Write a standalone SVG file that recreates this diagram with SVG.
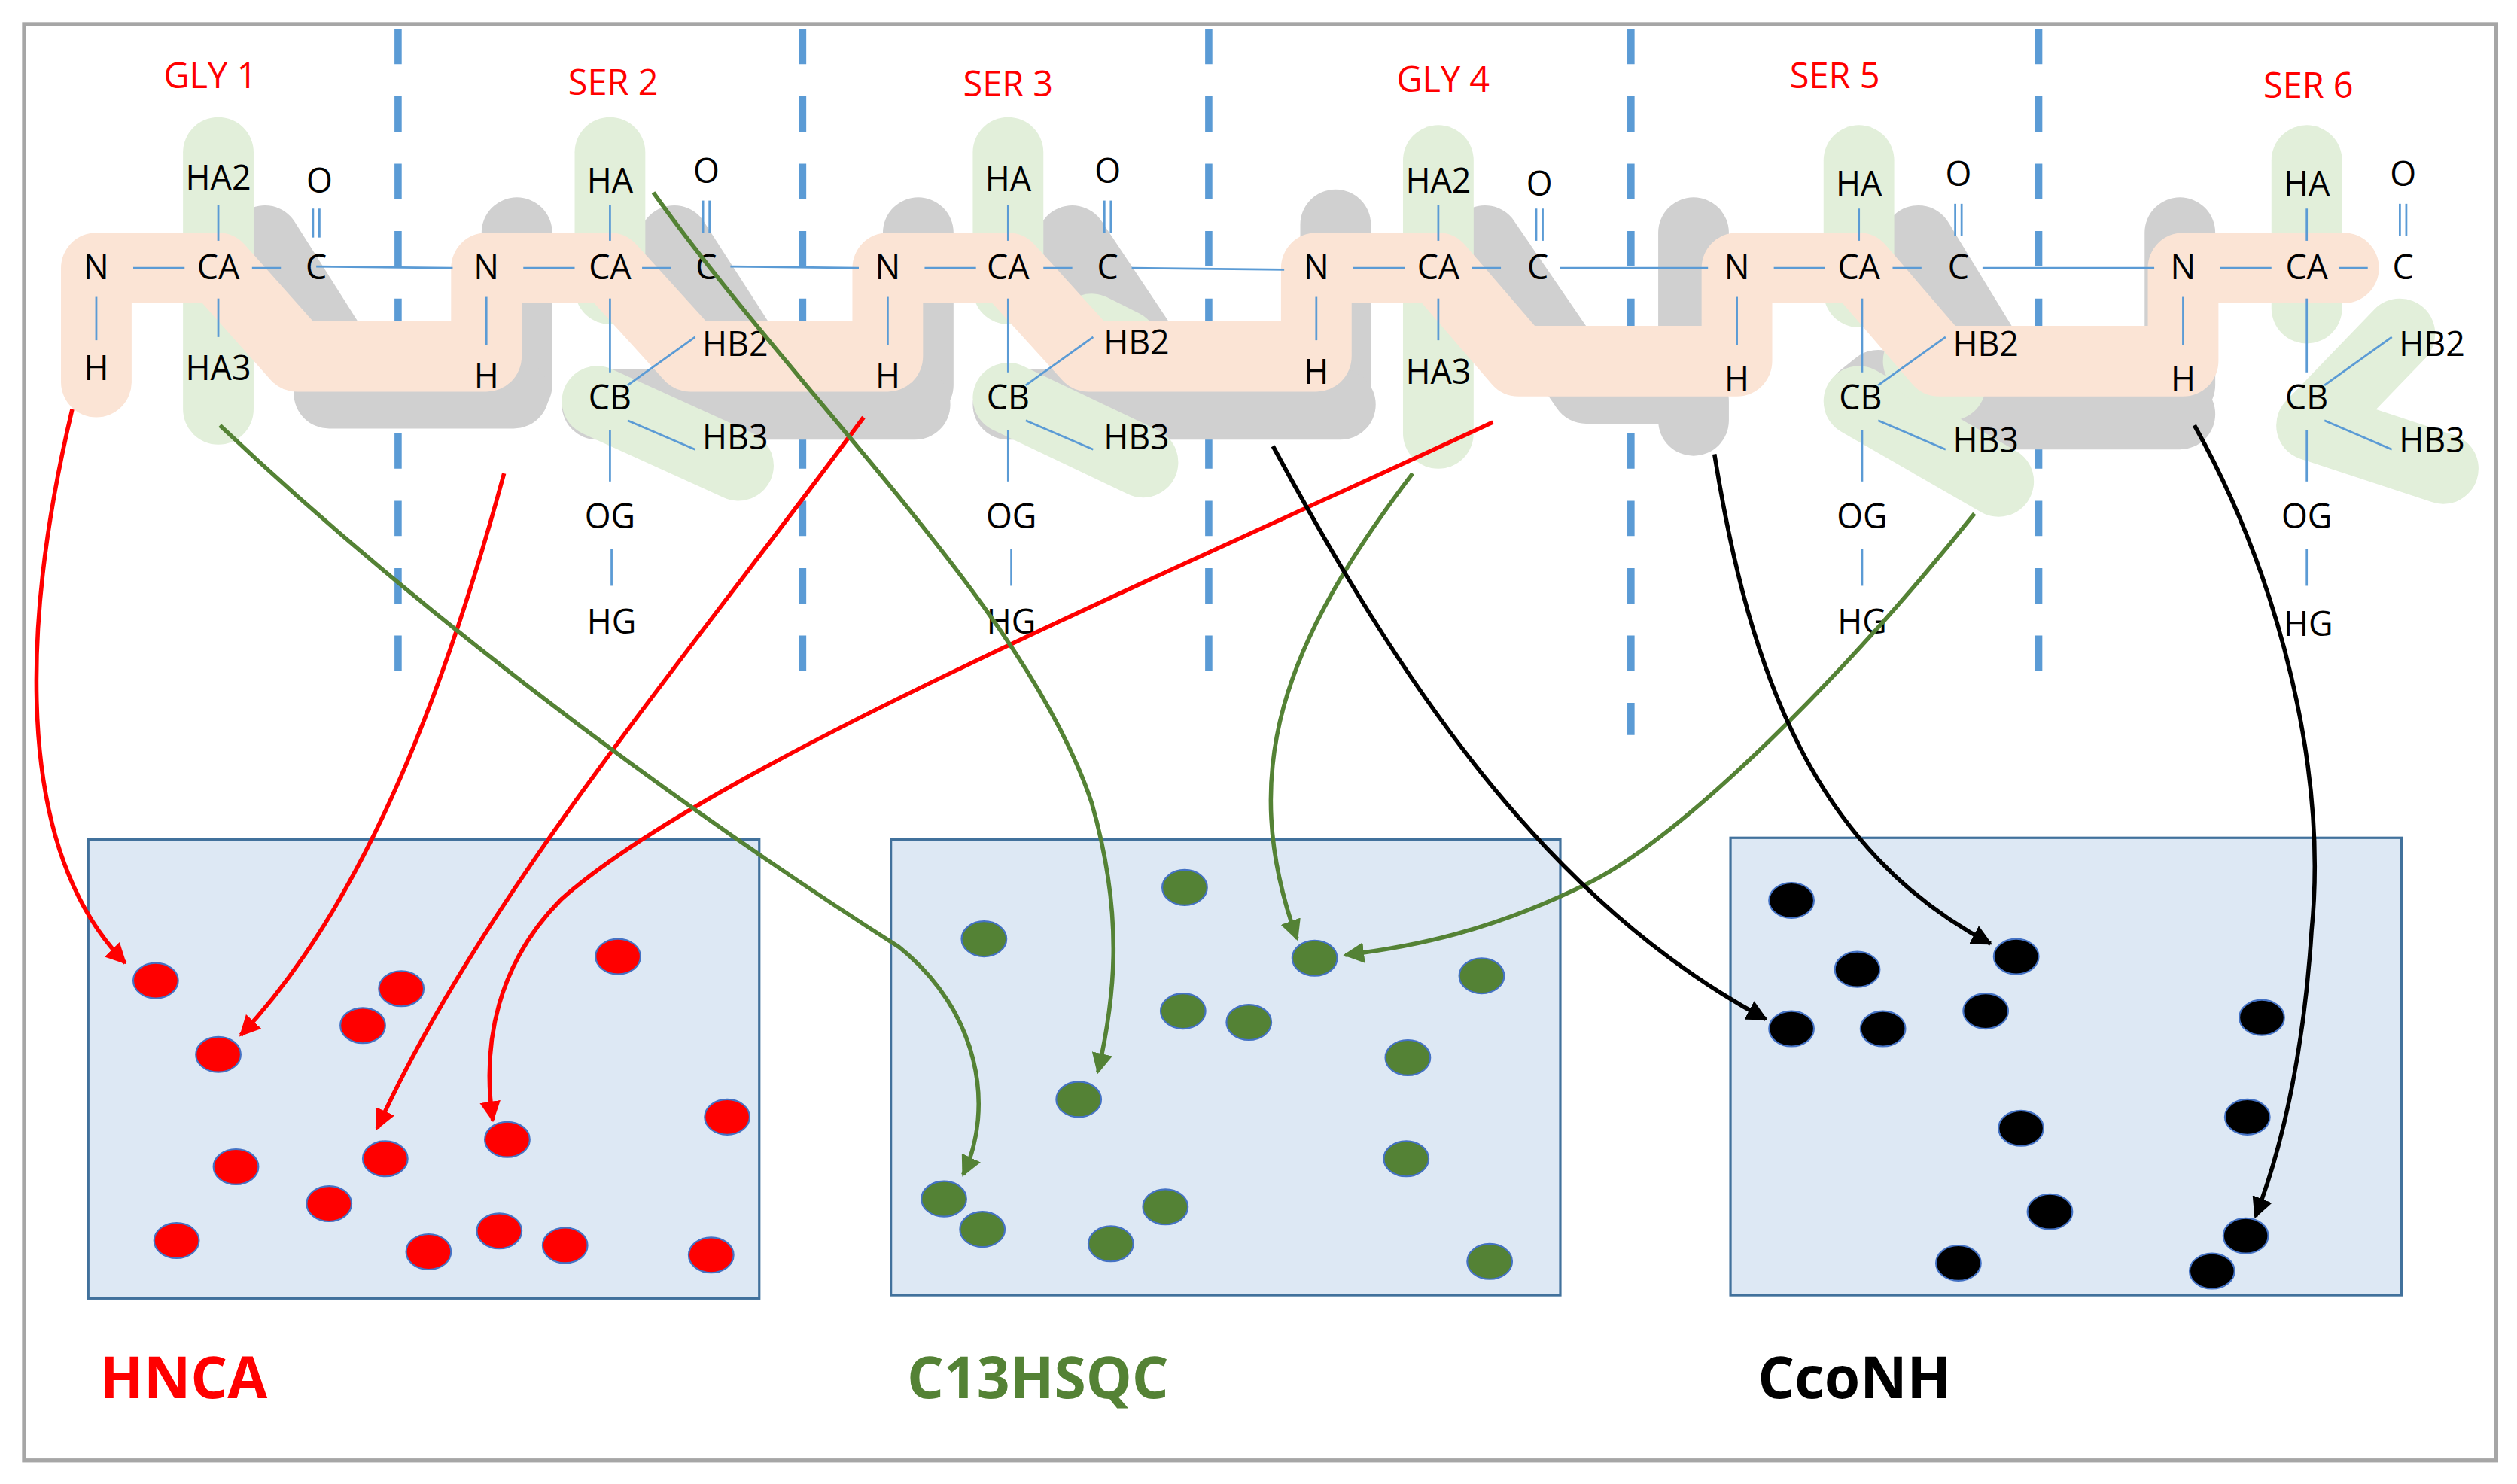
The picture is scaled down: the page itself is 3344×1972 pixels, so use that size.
<svg xmlns="http://www.w3.org/2000/svg" width="3344" height="1972" viewBox="0 0 3344 1972">
<defs>
<style>
text{font-family:"Open Sans","Liberation Sans",sans-serif;text-anchor:middle}
.at{font-size:21px;fill:#000}
.res{font-size:22px;fill:#ff0000}
.lab{font-size:36px;font-weight:bold;text-anchor:start}
.b{stroke:#5b9bd5;stroke-width:1.3;fill:none}
.dash{stroke:#5b9bd5;stroke-width:4.5;stroke-dasharray:22 20}
.hl{fill:none;stroke-width:44;stroke-linecap:round;stroke-linejoin:round}
.box{fill:#dde8f4;stroke:#41719c;stroke-width:1.5}
.dr{fill:#ff0000;stroke:#4472c4;stroke-width:1}
.dg{fill:#548235;stroke:#4472c4;stroke-width:1}
.dk{fill:#000;stroke:#4472c4;stroke-width:1}
.ar{fill:none;stroke-width:2.6}
</style>
<marker id="mr" viewBox="0 0 10 10" refX="9" refY="5" markerWidth="5" markerHeight="5" orient="auto"><path d="M0,0L10,5L0,10z" fill="#ff0000"/></marker>
<marker id="mg" viewBox="0 0 10 10" refX="9" refY="5" markerWidth="5" markerHeight="5" orient="auto"><path d="M0,0L10,5L0,10z" fill="#548235"/></marker>
<marker id="mk" viewBox="0 0 10 10" refX="9" refY="5" markerWidth="5" markerHeight="5" orient="auto"><path d="M0,0L10,5L0,10z" fill="#000"/></marker>
</defs>
<rect width="3344" height="1972" fill="#fff"/>
<g transform="scale(2.1327)">
<rect x="15" y="15" width="1540" height="895" fill="none" stroke="#a6a6a6" stroke-width="2.5"/>
<g id="dividers">
<line class="dash" x1="248" y1="18" x2="248" y2="436"/>
<line class="dash" x1="500" y1="18" x2="500" y2="436"/>
<line class="dash" x1="753" y1="18" x2="753" y2="436"/>
<line class="dash" x1="1016" y1="18" x2="1016" y2="458"/>
<line class="dash" x1="1270" y1="18" x2="1270" y2="436"/>
</g>
<g id="highlights">
<g stroke="#d0d0d0" class="hl">
<path d="M165,150 L222,240 H322 V145"/>
<path d="M205,245 H320"/>
<path d="M420,150 L478,240 H572 V145"/>
<path d="M372,252 H570"/>
<path d="M668,150 L728,240 H832 V140"/>
<path d="M628,252 H835"/>
<path d="M925,150 L988,242 H1055 V145"/>
<path d="M1055,250 V262"/>
<path d="M1195,150 L1250,240 H1358 V145"/>
<path d="M1160,248 L1170,240"/>
<path d="M1230,258 H1358"/>
</g>
<g stroke="#e2efda" class="hl">
<path d="M136,95 V255"/>
<path d="M380,95 V180"/>
<path d="M372,250 L460,290"/>
<path d="M628,95 V180"/>
<path d="M628,248 L712,288"/>
<path d="M680,205 L700,215"/>
<path d="M896,100 V270"/>
<path d="M1158,100 V182"/>
<path d="M1158,250 L1245,300"/>
<path d="M1195,225 L1215,240"/>
<path d="M1437,100 V192"/>
<path d="M1495,208 L1440,265 L1522,292"/>
</g>
<path stroke="#fbe4d5" class="hl" d="M60,238 V167 H136 L185,222 H303 V167 H380 L430,222 H553 V167 H628 L678,222 H820 V167 H896 L946,225 H1082 V167 H1158 L1208,225 H1360 V167 H1460"/>
</g>
<g id="residues">
<text class="res" x="131" y="55">GLY 1</text>
<text class="res" x="382" y="59">SER 2</text>
<text class="res" x="628" y="60">SER 3</text>
<text class="res" x="899" y="57">GLY 4</text>
<text class="res" x="1143" y="55">SER 5</text>
<text class="res" x="1438" y="61">SER 6</text>
</g>
<g id="bonds">
<line class="b" x1="197" y1="166" x2="282" y2="167"/>
<line class="b" x1="455" y1="166" x2="535" y2="167"/>
<line class="b" x1="705" y1="167" x2="800" y2="168"/>
<line class="b" x1="972" y1="167" x2="1064" y2="167"/>
<line class="b" x1="1235" y1="167" x2="1342" y2="167"/>
</g>
<g id="gly1" transform="translate(60,0)">
<g class="b"><line x1="23" y1="167" x2="55" y2="167"/><line x1="97" y1="167" x2="115" y2="167"/><line x1="0" y1="185" x2="0" y2="212"/><line x1="76" y1="128" x2="76" y2="150"/><line x1="76" y1="186" x2="76" y2="210"/><line x1="135" y1="130" x2="135" y2="148"/><line x1="139" y1="130" x2="139" y2="148"/></g>
<text class="at" x="0" y="174">N</text><text class="at" x="76" y="174">CA</text><text class="at" x="137" y="174">C</text><text class="at" x="0" y="237">H</text><text class="at" x="76" y="118">HA2</text><text class="at" x="139" y="120">O</text><text class="at" x="76" y="237">HA3</text>
</g>
<g id="gly4" transform="translate(820,0)">
<g class="b"><line x1="23" y1="167" x2="55" y2="167"/><line x1="97" y1="167" x2="115" y2="167"/><line x1="0" y1="185" x2="0" y2="212"/><line x1="76" y1="128" x2="76" y2="150"/><line x1="76" y1="186" x2="76" y2="212"/><line x1="137" y1="130" x2="137" y2="150"/><line x1="141" y1="130" x2="141" y2="150"/></g>
<text class="at" x="0" y="174">N</text><text class="at" x="76" y="174">CA</text><text class="at" x="138" y="174">C</text><text class="at" x="0" y="239">H</text><text class="at" x="76" y="120">HA2</text><text class="at" x="139" y="122">O</text><text class="at" x="76" y="239">HA3</text>
</g>
<g id="ser2" transform="translate(303,0)">
<g class="b"><line x1="23" y1="167" x2="55" y2="167"/><line x1="97" y1="167" x2="115" y2="167"/><line x1="0" y1="185" x2="0" y2="215"/><line x1="77" y1="128" x2="77" y2="150"/><line x1="77" y1="186" x2="77" y2="232"/><line x1="135" y1="125" x2="135" y2="145"/><line x1="139" y1="125" x2="139" y2="145"/><line x1="88" y1="240" x2="130" y2="210"/><line x1="88" y1="262" x2="130" y2="280"/><line x1="77" y1="268" x2="77" y2="300"/><line x1="78" y1="342" x2="78" y2="365"/></g>
<text class="at" x="0" y="174">N</text><text class="at" x="77" y="174">CA</text><text class="at" x="137" y="174">C</text><text class="at" x="0" y="242">H</text><text class="at" x="77" y="120">HA</text><text class="at" x="137" y="114">O</text><text class="at" x="77" y="255">CB</text><text class="at" x="155" y="222">HB2</text><text class="at" x="155" y="280">HB3</text><text class="at" x="77" y="329">OG</text><text class="at" x="78" y="395">HG</text>
</g>
<g id="ser3" transform="translate(553,0)">
<g class="b"><line x1="23" y1="167" x2="55" y2="167"/><line x1="97" y1="167" x2="115" y2="167"/><line x1="0" y1="185" x2="0" y2="215"/><line x1="75" y1="128" x2="75" y2="150"/><line x1="75" y1="186" x2="75" y2="232"/><line x1="135" y1="125" x2="135" y2="145"/><line x1="139" y1="125" x2="139" y2="145"/><line x1="86" y1="240" x2="128" y2="210"/><line x1="86" y1="262" x2="128" y2="280"/><line x1="75" y1="268" x2="75" y2="300"/><line x1="77" y1="342" x2="77" y2="365"/></g>
<text class="at" x="0" y="174">N</text><text class="at" x="75" y="174">CA</text><text class="at" x="137" y="174">C</text><text class="at" x="0" y="242">H</text><text class="at" x="75" y="119">HA</text><text class="at" x="137" y="114">O</text><text class="at" x="75" y="255">CB</text><text class="at" x="155" y="221">HB2</text><text class="at" x="155" y="280">HB3</text><text class="at" x="77" y="329">OG</text><text class="at" x="77" y="395">HG</text>
</g>
<g id="ser5" transform="translate(1082,0)">
<g class="b"><line x1="23" y1="167" x2="55" y2="167"/><line x1="97" y1="167" x2="115" y2="167"/><line x1="0" y1="185" x2="0" y2="215"/><line x1="76" y1="130" x2="76" y2="150"/><line x1="78" y1="186" x2="78" y2="232"/><line x1="136" y1="127" x2="136" y2="147"/><line x1="140" y1="127" x2="140" y2="147"/><line x1="88" y1="240" x2="130" y2="210"/><line x1="88" y1="262" x2="130" y2="280"/><line x1="78" y1="268" x2="78" y2="300"/><line x1="78" y1="342" x2="78" y2="365"/></g>
<text class="at" x="0" y="174">N</text><text class="at" x="76" y="174">CA</text><text class="at" x="138" y="174">C</text><text class="at" x="0" y="244">H</text><text class="at" x="76" y="122">HA</text><text class="at" x="138" y="116">O</text><text class="at" x="77" y="255">CB</text><text class="at" x="155" y="222">HB2</text><text class="at" x="155" y="282">HB3</text><text class="at" x="78" y="329">OG</text><text class="at" x="78" y="395">HG</text>
</g>
<g id="ser6" transform="translate(1360,0)">
<g class="b"><line x1="23" y1="167" x2="55" y2="167"/><line x1="97" y1="167" x2="115" y2="167"/><line x1="0" y1="185" x2="0" y2="215"/><line x1="77" y1="130" x2="77" y2="150"/><line x1="77" y1="186" x2="77" y2="232"/><line x1="135" y1="127" x2="135" y2="147"/><line x1="139" y1="127" x2="139" y2="147"/><line x1="88" y1="240" x2="130" y2="210"/><line x1="88" y1="262" x2="130" y2="280"/><line x1="77" y1="268" x2="77" y2="300"/><line x1="77" y1="342" x2="77" y2="365"/></g>
<text class="at" x="0" y="174">N</text><text class="at" x="77" y="174">CA</text><text class="at" x="137" y="174">C</text><text class="at" x="0" y="244">H</text><text class="at" x="77" y="122">HA</text><text class="at" x="137" y="116">O</text><text class="at" x="77" y="255">CB</text><text class="at" x="155" y="222">HB2</text><text class="at" x="155" y="282">HB3</text><text class="at" x="77" y="329">OG</text><text class="at" x="78" y="396">HG</text>
</g>
<g id="spectra">
<rect class="box" x="55" y="523" width="418" height="286"/>
<rect class="box" x="555" y="523" width="417" height="284"/>
<rect class="box" x="1078" y="522" width="418" height="285"/>
<g class="dr">
<ellipse cx="97" cy="611" rx="14" ry="11"/><ellipse cx="136" cy="657" rx="14" ry="11"/><ellipse cx="250" cy="616" rx="14" ry="11"/><ellipse cx="226" cy="639" rx="14" ry="11"/><ellipse cx="385" cy="596" rx="14" ry="11"/><ellipse cx="147" cy="727" rx="14" ry="11"/><ellipse cx="240" cy="722" rx="14" ry="11"/><ellipse cx="316" cy="710" rx="14" ry="11"/><ellipse cx="205" cy="750" rx="14" ry="11"/><ellipse cx="110" cy="773" rx="14" ry="11"/><ellipse cx="267" cy="780" rx="14" ry="11"/><ellipse cx="311" cy="767" rx="14" ry="11"/><ellipse cx="352" cy="776" rx="14" ry="11"/><ellipse cx="453" cy="696" rx="14" ry="11"/><ellipse cx="443" cy="782" rx="14" ry="11"/>
</g>
<g class="dg">
<ellipse cx="738" cy="553" rx="14" ry="11"/><ellipse cx="613" cy="585" rx="14" ry="11"/><ellipse cx="819" cy="597" rx="14" ry="11"/><ellipse cx="923" cy="608" rx="14" ry="11"/><ellipse cx="737" cy="630" rx="14" ry="11"/><ellipse cx="778" cy="637" rx="14" ry="11"/><ellipse cx="877" cy="659" rx="14" ry="11"/><ellipse cx="672" cy="685" rx="14" ry="11"/><ellipse cx="876" cy="722" rx="14" ry="11"/><ellipse cx="726" cy="752" rx="14" ry="11"/><ellipse cx="588" cy="747" rx="14" ry="11"/><ellipse cx="612" cy="766" rx="14" ry="11"/><ellipse cx="692" cy="775" rx="14" ry="11"/><ellipse cx="928" cy="786" rx="14" ry="11"/>
</g>
<g class="dk">
<ellipse cx="1116" cy="561" rx="14" ry="11"/><ellipse cx="1157" cy="604" rx="14" ry="11"/><ellipse cx="1256" cy="596" rx="14" ry="11"/><ellipse cx="1116" cy="641" rx="14" ry="11"/><ellipse cx="1173" cy="641" rx="14" ry="11"/><ellipse cx="1237" cy="630" rx="14" ry="11"/><ellipse cx="1409" cy="634" rx="14" ry="11"/><ellipse cx="1259" cy="703" rx="14" ry="11"/><ellipse cx="1400" cy="696" rx="14" ry="11"/><ellipse cx="1277" cy="755" rx="14" ry="11"/><ellipse cx="1399" cy="770" rx="14" ry="11"/><ellipse cx="1220" cy="787" rx="14" ry="11"/><ellipse cx="1378" cy="792" rx="14" ry="11"/>
</g>
<text class="lab" x="62" y="871" fill="#ff0000">HNCA</text>
<text class="lab" x="565" y="871" fill="#548235">C13HSQC</text>
<text class="lab" x="1095" y="871" fill="#000">CcoNH</text>
</g>
<g id="connectors">
<g stroke="#ff0000" class="ar" marker-end="url(#mr)">
<path d="M45,255 C20,360 0,520 78,600"/>
<path d="M314,295 C280,420 230,560 150,645"/>
<path d="M538,260 C420,420 300,560 235,703"/>
<path d="M930,263 C700,370 440,480 350,560 C310,600 300,650 307,698"/>
</g>
<g stroke="#548235" class="ar" marker-end="url(#mg)">
<path d="M137,265 C280,400 450,520 560,590 C610,630 620,690 600,732"/>
<path d="M407,120 C500,250 640,380 680,500 C700,570 695,620 684,668"/>
<path d="M880,295 C800,400 770,480 808,585"/>
<path d="M1230,320 C1150,420 1050,520 990,550 C930,580 880,590 838,595"/>
</g>
<g stroke="#000" class="ar" marker-end="url(#mk)">
<path d="M793,278 C870,420 960,560 1100,635"/>
<path d="M1068,283 C1090,420 1130,530 1240,588"/>
<path d="M1367,265 C1420,360 1450,480 1440,580 C1435,660 1420,720 1405,758"/>
</g>
</g>
</g>
</svg>
